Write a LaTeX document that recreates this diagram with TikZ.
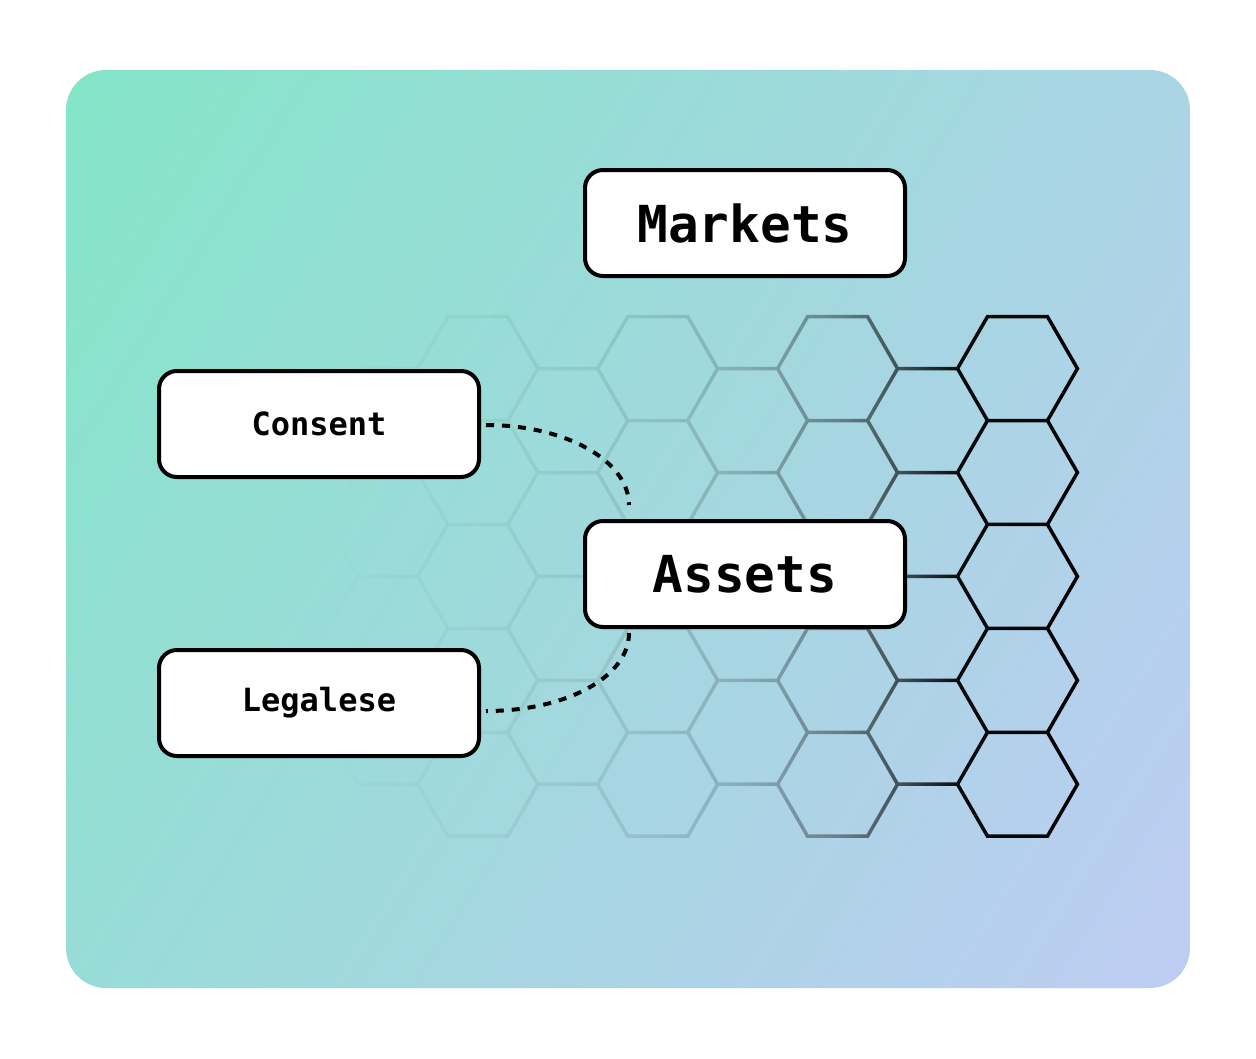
\documentclass[tikz,border=0pt]{standalone}
\usepackage{fontspec}
\newfontfamily\plexmono{DejaVu Sans Mono}
\usetikzlibrary{fadings,calc}
\definecolor{bgA}{RGB}{132,229,200}
\definecolor{bgB}{RGB}{190,204,243}
% fading: the path box maps onto the 25bp..75bp band
\pgfdeclarehorizontalshading{hexsh}{100bp}{color(0bp)=(black); color(25bp)=(black); color(29bp)=(white!2!black); color(35bp)=(white!4!black); color(41bp)=(white!7!black); color(47bp)=(white!11!black); color(53bp)=(white!20!black); color(59bp)=(white!40!black); color(63bp)=(white!62!black); color(67bp)=(white!95!black); color(75bp)=(white); color(100bp)=(white)}
\pgfdeclarefading{hexfade}{\pgfuseshading{hexsh}}
\tikzset{
  card/.style={draw=black, line width=4pt, fill=white, rounded corners=18pt,
    minimum width=320pt, minimum height=106pt, inner sep=0pt},
  bigtxt/.style={font=\plexmono\bfseries\fontsize{51}{60}\selectfont},
  smalltxt/.style={font=\plexmono\bfseries\fontsize{32}{38}\selectfont},
  link/.style={line width=4pt, dash pattern=on 8pt off 8pt},
  hexline/.style={line width=3.5pt, line join=miter},
}
\begin{document}
\begin{tikzpicture}[x=1pt, y=-1pt]
\useasboundingbox (0,0) rectangle (1256,1058);
\fill[white] (0,0) rectangle (1256,1058);
% background panel
\begin{scope}
  \clip[rounded corners=40pt] (66,70) rectangle (1190,988);
  \shade[top color=bgA, bottom color=bgB, shading angle=58]
    (-92,-191) rectangle (1348,1249);
\end{scope}
% honeycomb
\draw[hexline, path fading=hexfade, fit fading=true]
  foreach \cx/\ys in {388/{420,524,628,732}, 478/{368,472,576,680,784},
                      568/{420,524,628,732}, 658/{368,472,576,680,784},
                      748/{420,524,628,732}, 838/{368,472,576,680,784},
                      928/{420,524,628,732}, 1018/{368,472,576,680,784}} {
    foreach \cy in \ys {
      (\cx-60,\cy) -- (\cx-30,\cy-52) -- (\cx+30,\cy-52) -- (\cx+60,\cy)
      -- (\cx+30,\cy+52) -- (\cx-30,\cy+52) -- cycle
    }
  };
% nodes
\node[card, bigtxt] (markets) at (745,223) {Markets};
\node[card, bigtxt] (assets) at (745,574) {Assets};
\node[card, smalltxt] (consent) at (319,424) {Consent};
\node[card, smalltxt] (legalese) at (319,703) {Legalese};
% connectors
\draw[link] ($(consent.east)+(5,1)$) .. controls +(80,0) and +(0,-44) .. ($(assets.north west)+(46,-14)$);
\draw[link] ($(assets.south west)+(46,4)$) .. controls +(0,44) and +(80,0) .. ($(legalese.east)+(5,8)$);
\end{tikzpicture}
\end{document}
